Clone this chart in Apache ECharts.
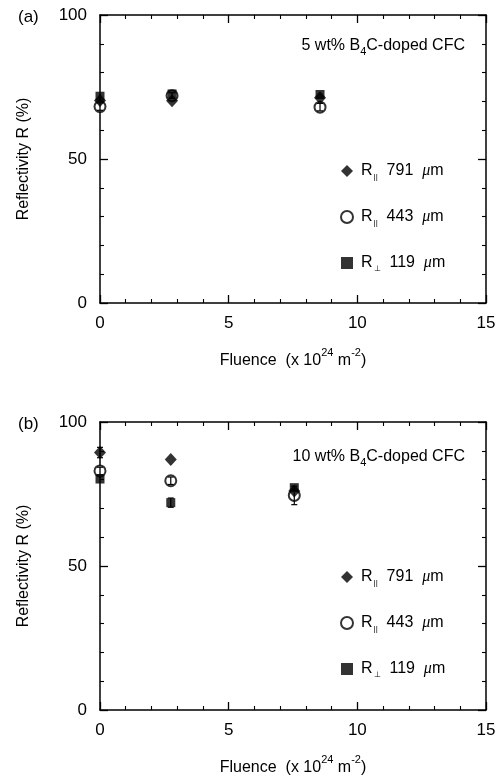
<!DOCTYPE html>
<html><head><meta charset="utf-8">
<script src="https://cdn.jsdelivr.net/npm/echarts@6/dist/echarts.min.js"></script>
<style>html,body{margin:0;padding:0;background:#fff}#c{width:504px;height:779px}</style>
</head><body><div id="c"></div>
<script>
// ---- data ----
const xTicks = [0, 5, 10, 15];
const yTicks = [0, 50, 100];

// panel (a): 5 wt% B4C-doped CFC
const fluenceA = [0, 2.8, 8.55];
const r791A = [70.3, 70.2, 71.3];
const r443A = [68.2, 72.0, 68.0];
const r119A = [71.8, 72.6, 72.4];
const err443A = [1.3, 1.0, 1.3];

// panel (b): 10 wt% B4C-doped CFC
const fluenceB = [0, 2.75, 7.55];
const r791B = [89.4, 87.0, 76.0];
const r443B = [83.0, 79.6, 74.5];
const r119B = [80.2, 72.0, 77.2];
const err791B = [1.8, 0, 0];
const err443B = [1.3, 1.3, 3.2];
const err119B = [0, 1.6, 0];

const names = ['p791', 'p443', 's119'];
const FONT = '"Liberation Sans", Arial, Helvetica, sans-serif';

const chart = echarts.init(document.getElementById('c'));

const grids = [
  {left: 100, top: 15, width: 386, height: 288},
  {left: 100, top: 422, width: 386, height: 288}
];

const tickCommon = {
  axisLine: {show: true, onZero: false, lineStyle: {color: '#000', width: 1.5}},
  axisTick: {show: true, inside: true, length: 8, lineStyle: {color: '#000', width: 1.3}},
  minorTick: {show: true, splitNumber: 5, length: 4, lineStyle: {color: '#000', width: 1.1}},
  splitLine: {show: false},
  minorSplitLine: {show: false}
};

function xAxes(gi) {
  return [
    Object.assign({
      type: 'value', gridIndex: gi, position: 'bottom', min: 0, max: 15, interval: 5,
      axisLabel: {show: true, color: '#000', fontSize: 17, fontFamily: FONT, margin: 12},
      name: '{t|Fluence  (x 10}{sup|24}{t| m}{sup|-2}{t|)}',
      nameLocation: 'middle', nameGap: 44,
      nameTextStyle: {
        color: '#000', fontFamily: FONT,
        rich: {
          t: {fontSize: 16, fontFamily: FONT, color: '#000', lineHeight: 22, verticalAlign: 'bottom'},
          sup: {fontSize: 11, fontFamily: FONT, color: '#000', lineHeight: 22, verticalAlign: 'top'}
        }
      }
    }, tickCommon),
    Object.assign({
      type: 'value', gridIndex: gi, position: 'top', min: 0, max: 15, interval: 5,
      axisLabel: {show: false}
    }, tickCommon)
  ];
}
function yAxes(gi) {
  return [
    Object.assign({
      type: 'value', gridIndex: gi, position: 'left', min: 0, max: 100, interval: 50,
      axisLabel: {show: true, color: '#000', fontSize: 17, fontFamily: FONT, margin: 13},
      name: 'Reflectivity R (%)', nameLocation: 'middle', nameGap: 68,
      nameTextStyle: {color: '#000', fontSize: 16, fontFamily: FONT}
    }, tickCommon),
    Object.assign({
      type: 'value', gridIndex: gi, position: 'right', min: 0, max: 100, interval: 50,
      axisLabel: {show: false}
    }, tickCommon)
  ];
}

const symDefs = {
  p791: {symbol: 'diamond', symbolSize: [12, 13], itemStyle: {color: '#000'}},
  p443: {symbol: 'emptyCircle', symbolSize: 11, itemStyle: {color: '#000', borderWidth: 1.5}},
  s119: {symbol: 'rect', symbolSize: 9, itemStyle: {color: '#000'}}
};

function scatter(name, xs, ys, gi, z) {
  return Object.assign({
    type: 'scatter', name: name, xAxisIndex: gi * 2, yAxisIndex: gi * 2, z: z,
    data: xs.map((x, i) => [x, ys[i]])
  }, JSON.parse(JSON.stringify(symDefs[name])));
}

function errBars(xs, ys, es, gi) {
  return {
    type: 'custom', xAxisIndex: gi * 2, yAxisIndex: gi * 2, z: 10, silent: true,
    data: xs.map((x, i) => [x, ys[i], es[i]]).filter(d => d[2] > 0),
    renderItem: function (params, api) {
      const x = api.value(0), y = api.value(1), e = api.value(2);
      const t = api.coord([x, y + e]), b = api.coord([x, y - e]);
      const w = 3;
      const st = {stroke: '#000', lineWidth: 1.2};
      return {type: 'group', children: [
        {type: 'line', shape: {x1: t[0], y1: t[1], x2: b[0], y2: b[1]}, style: st},
        {type: 'line', shape: {x1: t[0] - w, y1: t[1], x2: t[0] + w, y2: t[1]}, style: st},
        {type: 'line', shape: {x1: b[0] - w, y1: b[1], x2: b[0] + w, y2: b[1]}, style: st}
      ]};
    }
  };
}

const legendRich = {
  r: {fontSize: 16, fontFamily: FONT, color: '#000', lineHeight: 20, verticalAlign: 'middle'},
  sub: {fontSize: 8, fontFamily: FONT, color: '#000', lineHeight: 20, verticalAlign: 'bottom', padding: [0, 0, 0, 1]},
  t: {fontSize: 16, fontFamily: FONT, color: '#000', lineHeight: 20, verticalAlign: 'middle'},
  mu: {fontSize: 16, fontFamily: '"Liberation Serif", serif', fontStyle: 'italic', color: '#000', lineHeight: 20, verticalAlign: 'middle'}
};
const legendText = {
  p791: '{r|R}{sub|||}{t|  791  }{mu|\u03bc}{t|m}',
  p443: '{r|R}{sub|||}{t|  443  }{mu|\u03bc}{t|m}',
  s119: '{r|R}{sub|\u22a5}{t|  119  }{mu|\u03bc}{t|m}'
};
function legend(top) {
  return {
    orient: 'vertical', left: 335, top: top, itemGap: 28, itemWidth: 12, itemHeight: 12,
    selectedMode: false, data: names,
    itemStyle: {color: '#000', borderColor: '#000'},
    formatter: n => legendText[n],
    textStyle: {rich: legendRich, padding: [0, 0, 0, 3]}
  };
}

const annRich = {
  t: {fontSize: 16, fontFamily: FONT, fontWeight: 'normal', color: '#000', lineHeight: 22, verticalAlign: 'middle'},
  sub: {fontSize: 11, fontFamily: FONT, fontWeight: 'normal', color: '#000', lineHeight: 22, verticalAlign: 'bottom'}
};

const option = {
  backgroundColor: '#fff',
  animation: false,
  title: [
    {text: '(a)', left: 13, top: 4, textStyle: {fontSize: 17, fontWeight: 'normal', fontFamily: FONT, color: '#000'}},
    {text: '(b)', left: 13, top: 411, textStyle: {fontSize: 17, fontWeight: 'normal', fontFamily: FONT, color: '#000'}},
    {text: '{t|5 wt% B}{sub|4}{t|C-doped CFC}', right: 34, top: 30, textStyle: {fontWeight: 'normal', rich: annRich}},
    {text: '{t|10 wt% B}{sub|4}{t|C-doped CFC}', right: 34, top: 441, textStyle: {fontWeight: 'normal', rich: annRich}}
  ],
  legend: [legend(158), legend(564)],
  grid: grids,
  xAxis: xAxes(0).concat(xAxes(1)),
  yAxis: yAxes(0).concat(yAxes(1)),
  series: [
    scatter('p443', fluenceA, r443A, 0, 2),
    scatter('p791', fluenceA, r791A, 0, 3),
    scatter('s119', fluenceA, r119A, 0, 4),
    errBars(fluenceA, r443A, err443A, 0),
    scatter('p443', fluenceB, r443B, 1, 2),
    scatter('p791', fluenceB, r791B, 1, 3),
    scatter('s119', fluenceB, r119B, 1, 4),
    errBars(fluenceB, r791B, err791B, 1),
    errBars(fluenceB, r443B, err443B, 1),
    errBars(fluenceB, r119B, err119B, 1)
  ]
};
chart.setOption(option);
</script></body></html>
